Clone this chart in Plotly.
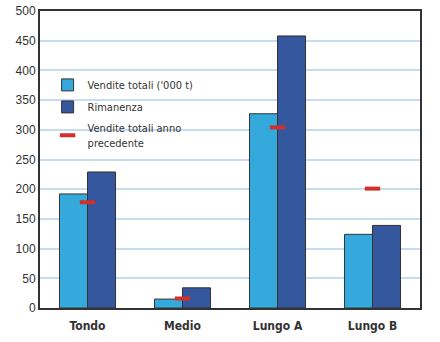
import plotly.graph_objects as go

categorie = ["Tondo", "Medio", "Lungo A", "Lungo B"]
vendite_totali = [192, 15, 327, 124]
rimanenza = [229, 34, 458, 139]
vendite_anno_prec = [178, 16, 304, 201]

font_tick = "Liberation Sans, Arial, sans-serif"
font_cat = "Liberation Sans Narrow, DejaVu Sans Condensed, sans-serif"

fig = go.Figure()
fig.add_trace(go.Bar(
    x=categorie, y=vendite_totali, name="Vendite totali ('000 t)",
    legendgroup="a",
    marker=dict(color="#36A9DC", line=dict(color="#333333", width=1)),
))
fig.add_trace(go.Bar(
    x=categorie, y=rimanenza, name="Rimanenza",
    legendgroup="b",
    marker=dict(color="#35579E", line=dict(color="#333333", width=1)),
))
fig.add_trace(go.Scatter(
    x=categorie, y=vendite_anno_prec, mode="markers",
    name="Vendite totali anno<br>precedente",
    legendgroup="c",
    marker=dict(symbol="line-ew-open", size=11, color="#D1302B",
                line=dict(color="#D1302B", width=4)),
))

fig.update_layout(
    width=440, height=342,
    margin=dict(l=40, r=20, t=11, b=34),
    paper_bgcolor="white", plot_bgcolor="white",
    barmode="group", bargap=0.41, bargroupgap=0,
    font=dict(family=font_tick, size=11, color="#333333"),
    legend=dict(
        x=0.02, y=0.8, xanchor="left", yanchor="top",
        bgcolor="rgba(0,0,0,0)",
        font=dict(family=font_cat, size=11, color="#333333"),
        tracegroupgap=3,
    ),
    showlegend=True,
)
fig.update_xaxes(
    showline=True, linecolor="#333333", linewidth=2, mirror=True,
    showgrid=False, ticks="", automargin=False, ticklabelstandoff=6,
    tickfont=dict(family=font_cat, size=12, color="#333333", weight="bold"),
)
fig.update_yaxes(
    range=[0, 500], dtick=50,
    showline=True, linecolor="#333333", linewidth=2, mirror=True,
    showgrid=True, gridcolor="#C5DCF2", gridwidth=1.5,
    zeroline=False, ticks="", automargin=False,
    tickfont=dict(family=font_tick, size=12, color="#333333"),
)

fig.write_html("out.html")
